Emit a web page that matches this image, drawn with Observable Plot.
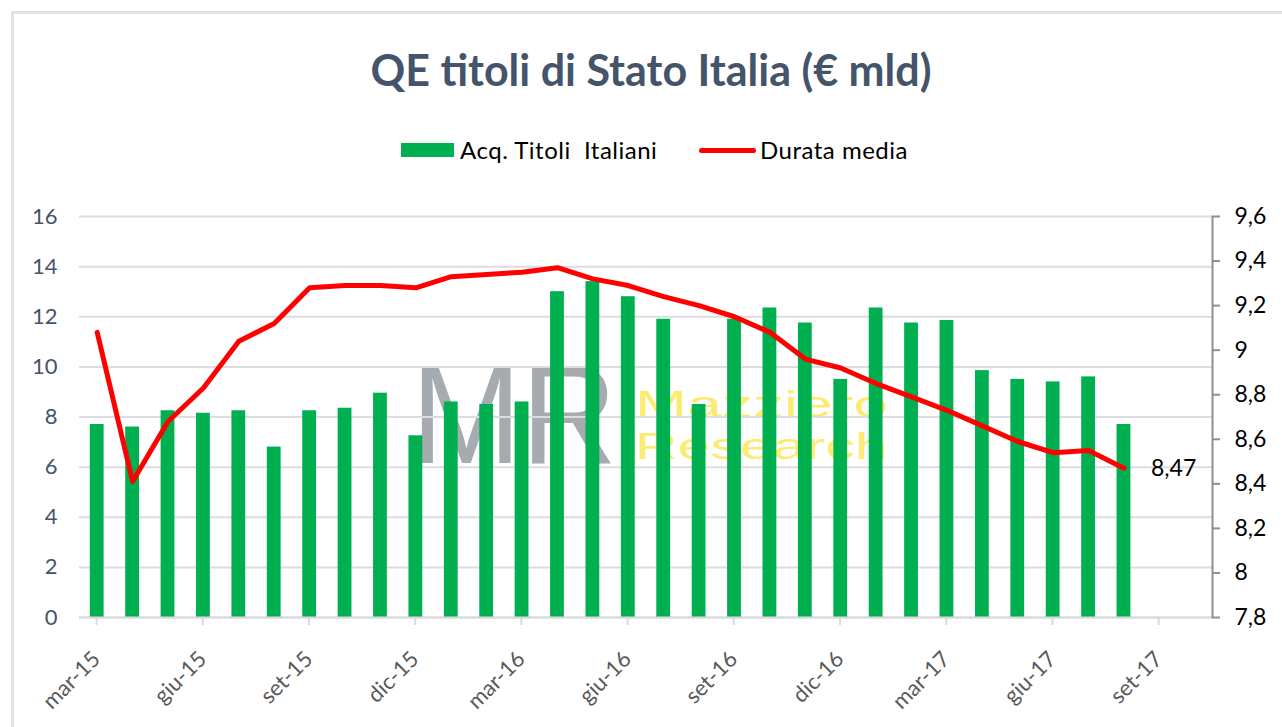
<!DOCTYPE html>
<html>
<head>
<meta charset="utf-8">
<script src="https://cdn.jsdelivr.net/npm/d3@7"></script>
<script src="https://cdn.jsdelivr.net/npm/@observablehq/plot@0.6"></script>
<style>
  html, body { margin: 0; padding: 0; background: #fff; }
  body { width: 1282px; height: 727px; overflow: hidden; position: relative; font-family: Lato, "Open Sans", sans-serif; }
  #card { position: absolute; left: 11px; top: 11px; width: 1320px; height: 800px; border-left: 3px solid #e2e2e6; border-top: 3px solid #e2e2e6; box-sizing: border-box; }
  #title { position: absolute; left: 0; width: 1302px; top: 45px; text-align: center; font-weight: 700; font-size: 43px; line-height: 50px; color: #44546a; }
  .lg { position: absolute; font-size: 24px; letter-spacing: 0.5px; line-height: 28px; color: #000; white-space: pre; }
  #sw1 { position: absolute; left: 401px; top: 143px; width: 53px; height: 14px; background: #00b050; }
  #sw2 { position: absolute; left: 699px; top: 148px; width: 57px; height: 5px; border-radius: 3px; background: #ff0000; }
  #wm { position: absolute; left: 0; top: 0; }
  #chart { position: absolute; left: 0; top: 190px; }
</style>
</head>
<body>
<div id="card"></div>
<div id="title">QE titoli di Stato Italia (€ mld)</div>
<div id="sw1"></div><div class="lg" style="left:460px;top:136px">Acq. Titoli  Italiani</div>
<div id="sw2"></div><div class="lg" style="left:760px;top:136px">Durata media</div>
<svg id="wm" width="1282" height="727">
  <text x="411" y="463" font-family="Liberation Sans, Arial, sans-serif" font-size="141" fill="#a6abb0" textLength="206" lengthAdjust="spacingAndGlyphs">MR</text>
  <text x="635" y="417" font-family="Liberation Sans, Arial, sans-serif" font-size="37" fill="#fde64e" fill-opacity="0.8" textLength="253" lengthAdjust="spacingAndGlyphs">Mazziero</text>
  <text x="635" y="459" font-family="Liberation Sans, Arial, sans-serif" font-size="37" fill="#fde64e" fill-opacity="0.8" textLength="253" lengthAdjust="spacingAndGlyphs">Research</text>
</svg>
<div id="chart"></div>
<script>
// ---- data ----
const months = ["mar-15","apr-15","mag-15","giu-15","lug-15","ago-15","set-15","ott-15","nov-15","dic-15",
  "gen-16","feb-16","mar-16","apr-16","mag-16","giu-16","lug-16","ago-16","set-16","ott-16","nov-16","dic-16",
  "gen-17","feb-17","mar-17","apr-17","mag-17","giu-17","lug-17","ago-17"];
const axisMonths = [...months, "set-17", "ott-17"];
const acquisti = [7.7, 7.6, 8.25, 8.15, 8.25, 6.8, 8.25, 8.35, 8.95, 7.25,
  8.6, 8.5, 8.6, 13.0, 13.4, 12.8, 11.9, 8.5, 11.9, 12.35, 11.75, 9.5,
  12.35, 11.75, 11.85, 9.85, 9.5, 9.4, 9.6, 7.7];
const durata = [9.08, 8.41, 8.68, 8.83, 9.04, 9.12, 9.28, 9.29, 9.29, 9.28,
  9.33, 9.34, 9.35, 9.37, 9.32, 9.29, 9.24, 9.2, 9.15, 9.08, 8.96, 8.92,
  8.85, 8.79, 8.73, 8.66, 8.59, 8.54, 8.55, 8.47];
const leftTicks = [0, 2, 4, 6, 8, 10, 12, 14, 16];
const rightTicks = [7.8, 8, 8.2, 8.4, 8.6, 8.8, 9, 9.2, 9.4, 9.6];
const tickLabels = ["mar-15","giu-15","set-15","dic-15","mar-16","giu-16","set-16","dic-16","mar-17","giu-17","set-17"];

// ---- build ----
const yR = d3.scaleLinear([rightTicks[0], rightTicks[rightTicks.length - 1]], [leftTicks[0], leftTicks[leftTicks.length - 1]]);
const fmtIt = v => String(Math.round(v * 100) / 100).replace(".", ",");
const rows = months.map((m, i) => ({ i, month: m, acq: acquisti[i], dur: durata[i] }));
const tickPos = tickLabels.map(l => axisMonths.indexOf(l));
const last = rows[rows.length - 1];

const chart = Plot.plot({
  width: 1282,
  height: 537,
  marginLeft: 79,
  marginRight: 70,
  marginTop: 26,
  marginBottom: 110,
  x: { type: "linear", domain: [0, axisMonths.length] },
  y: { domain: [leftTicks[0], leftTicks[leftTicks.length - 1]] },
  style: { background: "transparent", fontFamily: "Lato, 'Open Sans', sans-serif", overflow: "visible" },
  marks: [
    Plot.gridY(leftTicks, { stroke: "#dcdce2", strokeWidth: 2, strokeOpacity: 1 }),
    Plot.rectY(rows, { x: "i", y: "acq", interval: 1, insetLeft: 10.8, insetRight: 10.8, fill: "#00b050" }),
    Plot.ruleY([0], { stroke: "#d9d9de", strokeWidth: 2 }),
    Plot.axisX({
      ticks: tickPos,
      tickFormat: d => axisMonths[d],
      tickSize: 8,
      tickPadding: 30,
      tickRotate: -45,
      dx: 17,
      stroke: "#d9d9de",
      strokeWidth: 2,
      fill: "#595959",
      fontSize: 22,
      label: null
    }),
    Plot.axisY({
      ticks: leftTicks,
      tickSize: 0,
      tickPadding: 22,
      fill: "#44546a",
      fontSize: 22,
      label: null
    }),
    Plot.frame({ anchor: "right", stroke: "#8f8f8f", strokeWidth: 2 }),
    Plot.axisY({
      anchor: "right",
      ticks: rightTicks.map(yR),
      tickFormat: d => fmtIt(yR.invert(d)),
      tickSize: 7,
      tickPadding: 15,
      stroke: "#8f8f8f",
      strokeWidth: 2,
      fill: "#000",
      fontSize: 23,
      label: null
    }),
    Plot.line(rows, { x: d => d.i + 0.5, y: d => yR(d.dur), stroke: "#ff0000", strokeWidth: 5, strokeLinejoin: "round", strokeLinecap: "round" }),
    Plot.text([last], { x: d => d.i + 0.5, y: d => yR(d.dur), text: d => fmtIt(d.dur), textAnchor: "start", dx: 27, fontSize: 23, fill: "#000" })
  ]
});
document.getElementById("chart").appendChild(chart);
</script>
</body>
</html>
